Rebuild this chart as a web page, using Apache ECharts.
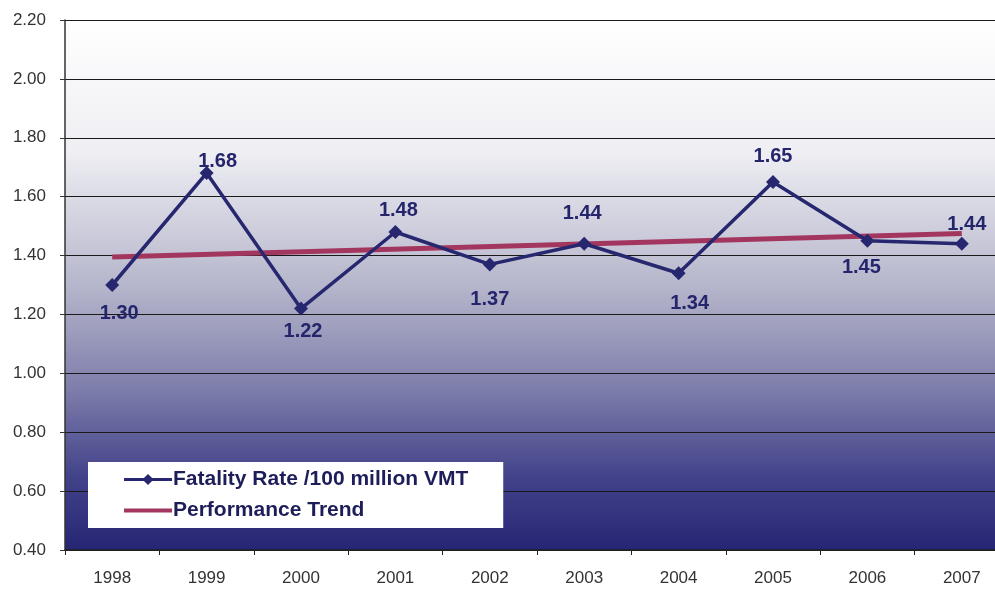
<!DOCTYPE html>
<html>
<head>
<meta charset="utf-8">
<script src="https://cdn.jsdelivr.net/npm/echarts@6/dist/echarts.min.js"></script>
<style>
    html, body { margin: 0; padding: 0; background: #fff; overflow: hidden; }
    #chart { width: 1009px; height: 589px; }
</style>
</head>
<body>
<div id="chart"></div>
<script>
// data
const years = ['1998', '1999', '2000', '2001', '2002', '2003', '2004', '2005', '2006', '2007']
const fatalityRate = [1.30, 1.68, 1.22, 1.48, 1.37, 1.44, 1.34, 1.65, 1.45, 1.44]
// trend line: only its two end points, joined straight
const trendRate = [1.395, null, null, null, null, null, null, null, null, 1.475]

// label placement (below for even index, above for odd), as in the original
const labelDist = [11, -5, 6, 5, 18, 13, 13, 8, 10, 2]
const labelShift = [7, 11, 2, 3, 0, -2, 11, 0, -6, 5]

const navy = '#27276f'

// the plot runs a little past the right edge of the picture, so the div is wider than the window
const chart = echarts.init(document.getElementById('chart'))

chart.setOption({
    animation: false,
    textStyle: { fontFamily: 'Liberation Sans, Arial, sans-serif' },
    grid: {
        left: 65,
        right: 0,
        top: 20,
        bottom: 39,
        show: true,
        borderWidth: 0,
        backgroundColor: new echarts.graphic.LinearGradient(0, 0, 0, 1, [
            { offset: 0, color: '#ffffff' },
            { offset: 0.25, color: '#eeeef3' },
            { offset: 0.5, color: '#b6b6cc' },
            { offset: 0.7, color: '#7c7caa' },
            { offset: 0.86, color: '#43438b' },
            { offset: 1, color: '#252574' }
        ])
    },
    legend: {
        left: 88,
        top: 462,
        orient: 'vertical',
        backgroundColor: '#ffffff',
        padding: [7, 35, 7, 34],
        itemGap: 10,
        itemWidth: 48,
        itemHeight: 14,
        textStyle: { fontSize: 21, fontWeight: 'bold', color: '#1d1d5a', padding: [0, 0, 0, -4] },
        data: [
            { name: 'Fatality Rate /100 million VMT', lineStyle: { width: 3 } },
            { name: 'Performance Trend', itemStyle: { opacity: 0 }, lineStyle: { width: 4 } }
        ]
    },
    xAxis: {
        type: 'category',
        data: years,
        boundaryGap: true,
        axisLine: { lineStyle: { color: '#222', width: 1.5 } },
        axisTick: { show: true, length: 5, lineStyle: { color: '#222' } },
        axisLabel: { color: '#333', fontSize: 17, margin: 20 },
        splitLine: { show: false }
    },
    yAxis: {
        type: 'value',
        min: 0.4,
        max: 2.2,
        interval: 0.2,
        axisLine: { show: true, lineStyle: { color: '#333', width: 1.5 } },
        axisTick: { show: true, length: 5, lineStyle: { color: '#333' } },
        axisLabel: {
            color: '#333',
            fontSize: 17,
            margin: 19,
            formatter: v => v.toFixed(2)
        },
        splitLine: { show: true, lineStyle: { color: '#1a1a1a', width: 1.2 } }
    },
    series: [{
        name: 'Performance Trend',
        type: 'line',
        data: trendRate,
        connectNulls: true,
        symbol: 'none',
        z: 2,
        lineStyle: { color: '#a3365f', width: 5 },
        itemStyle: { color: '#a3365f' }
    }, {
        name: 'Fatality Rate /100 million VMT',
        type: 'line',
        z: 3,
        data: fatalityRate.map((v, i) => ({
            value: v,
            label: {
                position: i % 2 === 0 ? 'bottom' : 'top',
                distance: labelDist[i],
                offset: [labelShift[i], 0]
            }
        })),
        symbol: 'diamond',
        symbolSize: 14,
        lineStyle: { color: navy, width: 3.5 },
        itemStyle: { color: navy },
        label: {
            show: true,
            color: '#25256b',
            fontSize: 20,
            fontWeight: 'bold',
            formatter: p => p.value.toFixed(2)
        }
    }]
})
</script>
</body>
</html>
